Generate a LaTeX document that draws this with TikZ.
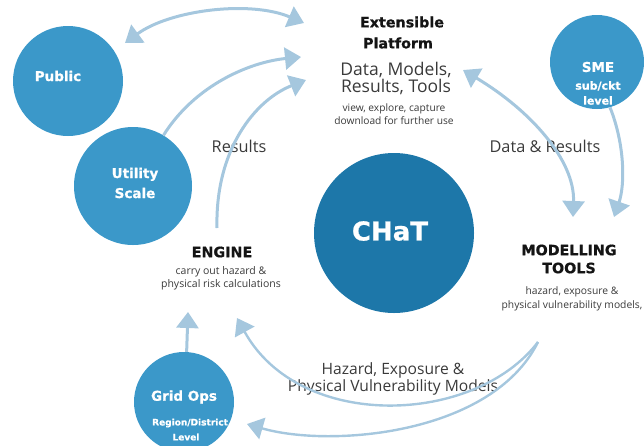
\documentclass[tikz,border=0pt]{standalone}
\usepackage{fontspec}
\setmainfont{Open Sans}
\newfontfamily\dvs{DejaVu Sans}[BoldFeatures={FakeBold=0.7}]
\usetikzlibrary{arrows.meta}
\definecolor{circc}{HTML}{3B98C9}
\definecolor{chatc}{HTML}{1D77A9}
\definecolor{arrc}{HTML}{A5C7DE}
\definecolor{txtc}{HTML}{3A3A3A}
\begin{document}
\begin{tikzpicture}[x=1pt,y=-1pt,
 bub/.style={circle, fill=circc, draw=none, inner sep=0pt},
 wt/.style={text=white, font=\dvs\bfseries\fontsize{13.5}{20}\selectfont, inner sep=0pt},
 hd/.style={text=black!92, font=\dvs\bfseries\fontsize{14.3}{18}\selectfont, inner sep=0pt},
 lbl/.style={text=txtc, inner sep=0pt},
 arr/.style={draw=arrc, line width=3pt, -{Triangle[width=22pt,length=16pt]}},
 darr/.style={draw=arrc, line width=3pt, {Triangle[width=22pt,length=16pt]}-{Triangle[width=22pt,length=16pt]}},
 thinarr/.style={draw=arrc, line width=2.4pt, -{Triangle[width=22pt,length=16pt]}},
]
\clip (0,0) rectangle (644,445);
\useasboundingbox (0,0) rectangle (644,445);

% circles
\node[bub, minimum size=110pt] (pub) at (68,81) {};
\node[bub, minimum size=118pt] (ut) at (133,186) {};
\node[bub, minimum size=94pt] (sme) at (597,62) {};
\node[bub, fill=chatc, minimum size=160pt] (chat) at (394,233) {};
\node[bub, minimum size=100pt] (grid) at (184,402) {};

% circle texts
\node[wt] (pubt) at (58,76) {Public};
\node[wt, align=center] (utt) at (135,183) {Utility\\Scale};
\node[wt] (smet) at (598,67) {SME};
\node[wt, font=\dvs\bfseries\fontsize{11}{15}\selectfont, align=center] (smes) at (598,93) {sub/ckt\\level};
\node[text=white, font=\dvs\bfseries\fontsize{26}{28}\selectfont, inner sep=0pt] (chatt) at (390,231) {CHaT};
\node[wt] (gridt) at (184,397) {Grid Ops};
\node[wt, font=\dvs\bfseries\fontsize{9}{11}\selectfont, anchor=west] (reg) at (152,423) {Region/District};
\node[wt, font=\dvs\bfseries\fontsize{9}{11}\selectfont] (lev) at (186,437) {Level};

% labels
\node[hd] (ext1) at (402,22) {Extensible};
\node[hd] (ext2) at (398,43) {Platform};
\node[lbl, font=\fontsize{17.5}{17}\selectfont, align=center] (dm) at (396,78) {Data, Models,\\Results, Tools};
\node[lbl, font=\fontsize{10.2}{12.5}\selectfont, align=center] (view) at (394,114) {view, explore, capture\\download for further use};
\node[lbl, font=\fontsize{16.3}{18}\selectfont] (res) at (239,146) {Results};
\node[lbl, font=\fontsize{16.3}{18}\selectfont] (dr) at (545,146) {Data \& Results};
\node[hd] (eng) at (222,252) {ENGINE};
\node[lbl, font=\fontsize{10.5}{13}\selectfont, align=center] (engt) at (221,278) {carry out hazard \&\\physical risk calculations};
\node[hd, align=center] (mod) at (569,259) {MODELLING\\TOOLS};
\node[lbl, font=\fontsize{10.3}{14}\selectfont, align=center] (modt) at (572,299) {hazard, exposure \&\\physical vulnerability models,};
\node[lbl, font=\fontsize{15.6}{17.5}\selectfont, align=center] (hz) at (393,379) {Hazard, Exposure \&\\Physical Vulnerability Models};

% arrow end points
\coordinate (pubtip) at (125,43);
\coordinate (plat1) at (304,23);
\coordinate (plat2) at (301,57);
\coordinate (plat3) at (306,80);
\coordinate (engtop) at (217,228);
\coordinate (dmtip) at (463,70);
\coordinate (modtip1) at (573,217);
\coordinate (modtip2) at (614,217);
\coordinate (modbot) at (538,342);
\coordinate (engtip1) at (188,312);
\coordinate (engtip2) at (237,318);
\coordinate (gridtip) at (247,424);

% arrows
\draw[darr] (pubtip) .. controls (170,10) and (250,0) .. (plat1);
\draw[arr] (ut.59) .. controls (195,85) and (250,62) .. (plat2);
\draw[arr] (engtop) .. controls (215,150) and (255,100) .. (plat3);
\draw[darr] (dmtip) .. controls (530,110) and (575,160) .. (modtip1);
\draw[arr] (sme.-74) .. controls (625,145) and (625,185) .. (modtip2);
\draw[arr] (grid.87) -- (engtip1);
\draw[thinarr] (modbot) .. controls (475,425) and (300,432) .. (engtip2);
\draw[thinarr] (modbot) .. controls (492,435) and (330,448) .. (gridtip);
\end{tikzpicture}
\end{document}
